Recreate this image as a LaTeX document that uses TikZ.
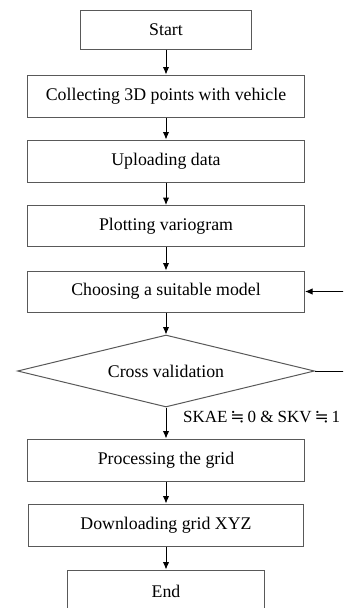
\documentclass[tikz,border=0pt]{standalone}
\usepackage{fontspec}
\setmainfont{Liberation Serif}
\newfontfamily\symfont{DejaVu Serif}
\usetikzlibrary{shapes.geometric,arrows.meta}
\begin{document}
\begin{tikzpicture}[x=1pt,y=-1pt,
  box/.style={draw=black!65,line width=1pt,rectangle,inner sep=0pt,font=\fontsize{17.8}{20}\selectfont},
  dia/.style={draw=black!65,line width=1pt,diamond,aspect=4,inner sep=0pt,font=\fontsize{17.8}{20}\selectfont},
  arr/.style={line width=1pt,-{Latex[length=7.5pt,width=6.5pt]}}]
\clip (0,0) rectangle (343,608);
\node[box,minimum width=171pt,minimum height=39pt] (start) at (166,29.5) {Start};
\node[box,minimum width=277pt,minimum height=42pt] (collect) at (166,96) {Collecting 3D points with vehicle};
\node[box,minimum width=277pt,minimum height=42pt] (upload) at (166,161) {Uploading data};
\node[box,minimum width=277pt,minimum height=41pt] (plot) at (166,226) {Plotting variogram};
\node[box,minimum width=277pt,minimum height=41pt] (choose) at (166,291.5) {Choosing a suitable model};
\node[dia,minimum width=297pt,minimum height=72pt] (cross) at (166,371) {Cross validation};
\node[box,minimum width=277pt,minimum height=42pt] (process) at (166,460) {Processing the grid};
\node[box,minimum width=275pt,minimum height=42pt] (download) at (166,525) {Downloading grid XYZ};
\node[box,minimum width=197pt,minimum height=42pt] (end) at (166,591) {End};
\node[anchor=west,inner sep=0pt,font=\fontsize{17}{20}\selectfont] (lab) at (183,417) {SKAE\,{\symfont ≒}\,0 \& SKV\,{\symfont ≒}\,1};
\coordinate (ret) at (352,371);
\draw[arr] (start) -- (collect);
\draw[arr] (collect) -- (upload);
\draw[arr] (upload) -- (plot);
\draw[arr] (plot) -- (choose);
\draw[arr] (choose) -- (cross);
\draw[arr] (cross) -- (process);
\draw[arr] (process) -- (download);
\draw[arr] (download) -- (end);
\draw[arr] (cross.east) -- (ret) |- (choose.east);
\end{tikzpicture}
\end{document}
